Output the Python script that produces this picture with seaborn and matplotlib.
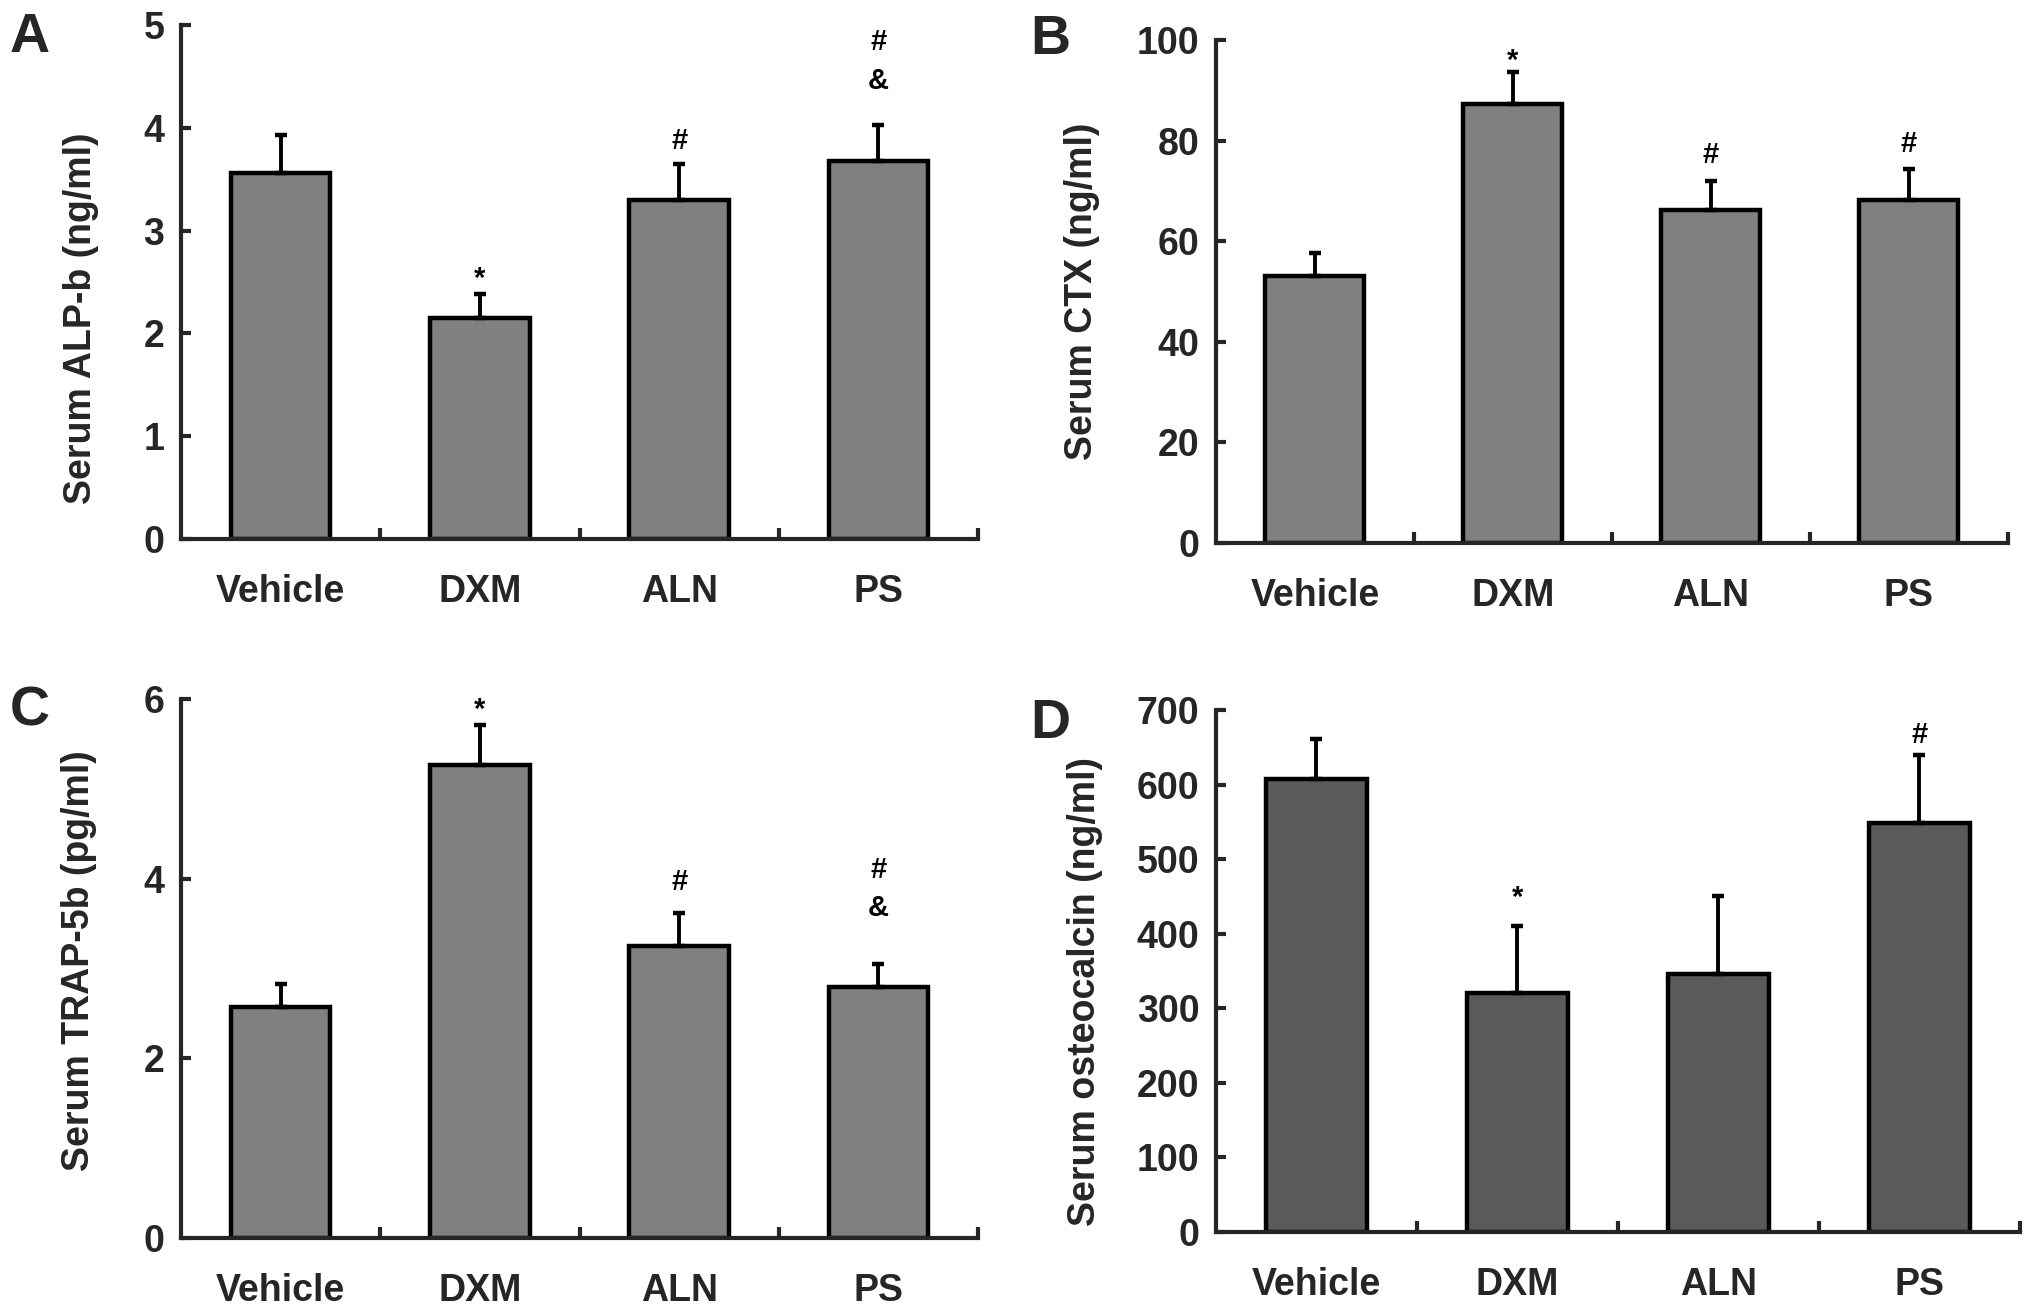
import numpy as np
import pandas as pd
import matplotlib
matplotlib.use("Agg")
import matplotlib.pyplot as plt
from matplotlib.ticker import FixedLocator
import seaborn as sns

groups = ["Vehicle", "DXM", "ALN", "PS"]

# panel A - ALP-b
alp_mean = [3.56, 2.15, 3.30, 3.68]
alp_err = [0.37, 0.23, 0.35, 0.35]
# panel B - CTX
ctx_mean = [53.0, 87.3, 66.2, 68.2]
ctx_err = [4.7, 6.3, 5.7, 6.2]
# panel C - TRAP-5b
trap_mean = [2.57, 5.27, 3.25, 2.79]
trap_err = [0.26, 0.44, 0.37, 0.26]
# panel D - osteocalcin
ocn_mean = [608, 321, 346, 549]
ocn_err = [53, 89, 105, 90]

# significance marks: (group index, symbol, height)
alp_marks = [(1, "*", 2.59), (2, "#", 3.87), (3, "&", 4.46), (3, "#", 4.83)]
ctx_marks = [(1, "*", 97.0), (2, "#", 77.1), (3, "#", 79.3)]
trap_marks = [(1, "*", 5.95), (2, "#", 3.96), (3, "&", 3.67), (3, "#", 4.10)]
ocn_marks = [(1, "*", 457), (3, "#", 667)]

sns.set_style("ticks")
plt.rcParams["font.family"] = ["Liberation Sans", "DejaVu Sans"]

fig = plt.figure(figsize=(20.31, 13.07), dpi=100)
W, H = 2031, 1307


def box(l, r, t, b):
    return [l / W, 1 - b / H, (r - l) / W, (b - t) / H]


panels = [
    dict(letter="A", pos=box(181, 978, 25, 539), mean=alp_mean, err=alp_err,
         marks=alp_marks, ylim=5, step=1, ylabel="Serum ALP-b (ng/ml)",
         color="#808080", lab=(-0.103, 0.43), let=(10, 12)),
    dict(letter="B", pos=box(1216, 2008, 40, 543), mean=ctx_mean, err=ctx_err,
         marks=ctx_marks, ylim=100, step=20, ylabel="Serum CTX (ng/ml)",
         color="#808080", lab=(-0.146, 0.5), let=(1030, 14)),
    dict(letter="C", pos=box(181, 978, 699, 1238), mean=trap_mean, err=trap_err,
         marks=trap_marks, ylim=6, step=2, ylabel="Serum TRAP-5b (pg/ml)",
         color="#808080", lab=(-0.106, 0.514), let=(10, 686)),
    dict(letter="D", pos=box(1216, 2020, 710, 1232), mean=ocn_mean, err=ocn_err,
         marks=ocn_marks, ylim=700, step=100, ylabel="Serum osteocalcin (ng/ml)",
         color="#5a5a5a", lab=(-0.141, 0.46), let=(1030, 698)),
]

for p in panels:
    ax = fig.add_axes(p["pos"])
    df = pd.DataFrame({"group": groups, "value": p["mean"]})
    sns.barplot(data=df, x="group", y="value", order=groups, color=p["color"],
                saturation=1, width=0.5, errorbar=None, edgecolor="black",
                linewidth=3.2, ax=ax)
    ax.errorbar(np.arange(len(groups)), p["mean"],
                yerr=[np.zeros(len(groups)), p["err"]], fmt="none",
                ecolor="black", elinewidth=2.8, capsize=4.5, capthick=3.2,
                zorder=1)
    for i, sym, y in p["marks"]:
        fs = 21 if sym == "*" else 21
        ax.text(i, y - (p["ylim"] * 0.012 if sym == "*" else 0), sym,
                ha="center", va="center", fontsize=fs,
                fontweight="bold", color="black")

    ax.set_xlim(-0.5, len(groups) - 0.5)
    ax.set_ylim(0, p["ylim"])
    ax.set_yticks(np.arange(0, p["ylim"] + p["step"] / 2, p["step"]))
    ax.xaxis.set_minor_locator(FixedLocator(np.arange(0.5, len(groups), 1)))
    sns.despine(ax=ax)
    for s in ["left", "bottom"]:
        ax.spines[s].set_linewidth(3)
        ax.spines[s].set_capstyle("projecting")
    ax.tick_params(axis="y", direction="in", length=7, width=3, pad=12,
                   labelsize=27)
    ax.tick_params(axis="x", which="major", length=0, pad=25, labelsize=27)
    ax.tick_params(axis="x", which="minor", direction="in", length=8, width=3)
    for lab in ax.get_xticklabels() + ax.get_yticklabels():
        lab.set_fontweight("bold")
    ax.set_xlabel("")
    ax.set_ylabel(p["ylabel"], fontsize=27, fontweight="bold")
    ax.yaxis.set_label_coords(*p["lab"])
    fig.text(p["let"][0] / W, 1 - p["let"][1] / H, p["letter"], fontsize=40,
             fontweight="bold", ha="left", va="top")

fig.savefig("out.png", dpi=100, facecolor="white")
